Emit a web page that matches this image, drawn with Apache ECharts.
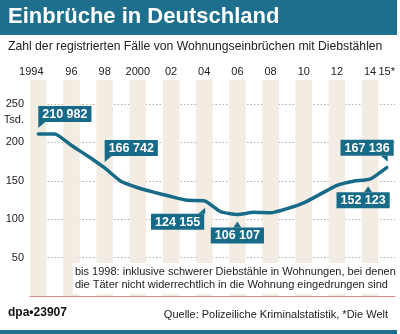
<!DOCTYPE html>
<html>
<head>
<meta charset="utf-8">
<script src="https://cdn.jsdelivr.net/npm/echarts@6/dist/echarts.min.js"></script>
<style>
  html, body { margin: 0; padding: 0; background: #fff; }
  #chart { width: 400px; height: 334px; }
</style>
</head>
<body>
<div id="chart"></div>
<script>
// Registered residential burglaries with theft, Germany (thousands of cases)
const years = ['1994','1995','1996','1997','1998','1999','2000','2001','2002','2003','2004',
               '2005','2006','2007','2008','2009','2010','2011','2012','2013','2014','2015'];
const cases = [210.982, 210.9, 196.0, 182.0, 166.742, 149.0, 141.0, 135.0, 129.5, 124.6, 124.155,
               109.7, 106.107, 108.9, 108.3, 113.8, 121.3, 132.6, 144.1, 149.5, 152.123, 167.136];
// Years whose exact count is written in a callout
const calloutYears = ['1994', '1998', '2004', '2006', '2014', '2015'];
// Value axis ticks (thousands)
const yTicks = [50, 100, 150, 200, 250];

const TEAL = '#176b88';
const FONT = '"Liberation Sans", Arial, sans-serif';

// Callout placement: box above/below the point, which edge sits at the point, shift in px
const calloutPlacement = {
  '1994': { side: 'above', anchor: 'left',   dx: 0,  tail: 'left'  },
  '1998': { side: 'above', anchor: 'left',   dx: 0,  tail: 'left'  },
  '2004': { side: 'below', anchor: 'right',  dx: 0,  tail: 'right' },
  '2006': { side: 'below', anchor: 'center', dx: 0,  tail: 'mid'   },
  '2014': { side: 'below', anchor: 'center', dx: -7, tail: 'mid'   },
  '2015': { side: 'above', anchor: 'right',  dx: 7,  tail: 'right' }
};

function formatCount(v) {
  const n = Math.round(v * 1000);
  return String(n).replace(/\B(?=(\d{3})+(?!\d))/g, ' ');
}

function yearLabel(y) {
  if (y === '2015') return '15*';
  if (y === '1994') return '{first|1994}';
  if (y === '2000') return '2000';
  return y.slice(2);
}

const chart = echarts.init(document.getElementById('chart'), null, { renderer: 'canvas' });

const calloutData = calloutYears.map(y => [y, cases[years.indexOf(y)]]);

chart.setOption({
  animation: false,
  grid: { left: 30, right: 5, top: 80, bottom: 38 },
  xAxis: [{
    type: 'category',
    data: years,
    position: 'top',
    boundaryGap: true,
    axisLine: { show: false },
    axisTick: { show: false },
    axisLabel: {
      interval: (i, v) => (i % 2 === 0) || v === '2015',
      formatter: yearLabel,
      margin: 3,
      fontFamily: FONT,
      fontSize: 11,
      color: '#222',
      rich: { first: { fontFamily: FONT, fontSize: 11, color: '#222', padding: [0, 14, 0, 0] } }
    },
    splitLine: { show: false },
    splitArea: {
      show: true,
      interval: 0,
      areaStyle: { color: ['#f3ece3', 'rgba(255,255,255,0)'] }
    }
  }, {
    type: 'category',
    data: years,
    position: 'bottom',
    axisLine: { show: true, lineStyle: { color: '#e2857c', width: 1 } },
    axisTick: { show: false },
    axisLabel: { show: false }
  }],
  yAxis: {
    type: 'value',
    min: 0,
    max: 281.25,
    interval: 50,
    axisLine: { show: false },
    axisTick: { show: false },
    axisLabel: {
      showMinLabel: false,
      showMaxLabel: false,
      margin: 6,
      fontFamily: FONT,
      fontSize: 11,
      color: '#222',
      formatter: v => (yTicks.indexOf(v) >= 0 ? String(v) : '')
    },
    splitLine: {
      show: true,
      showMinLine: false,
      showMaxLine: false,
      lineStyle: { color: '#b0b0b0', type: [1.5, 2], width: 1 }
    }
  },
  series: [{
    type: 'line',
    data: cases,
    symbol: 'none',
    smooth: 0.15,
    lineStyle: { color: TEAL, width: 3.5, cap: 'round', join: 'round' },
    z: 3
  }, {
    type: 'custom',
    data: calloutData,
    z: 5,
    renderItem: (params, api) => {
      const year = years[api.value(0)];
      const val = api.value(1);
      const p = api.coord([api.value(0), val]);
      const cfg = calloutPlacement[year];
      const px = p[0] + cfg.dx;
      const above = cfg.side === 'above';
      const edgeY = above ? p[1] - 12 : p[1] + 13;
      const tipY = above ? edgeY + 6 : edgeY - 6;
      let tri;
      if (cfg.tail === 'left') {
        const tx = p[0] + cfg.dx;
        tri = [[tx, edgeY], [tx + 7, edgeY], [tx, tipY]];
      } else if (cfg.tail === 'right') {
        const tx = p[0] + 1;
        tri = [[tx - 7, edgeY], [tx, edgeY], [tx, tipY]];
      } else {
        const tx = p[0] - (cfg.dx ? 2 : 0);
        tri = [[tx - 4, edgeY], [tx + 4, edgeY], [tx, tipY]];
      }
      return {
        type: 'group',
        children: [{
          type: 'polygon',
          shape: { points: tri },
          style: { fill: TEAL }
        }, {
          type: 'text',
          x: px,
          y: edgeY,
          style: {
            text: formatCount(val),
            fill: '#fff',
            font: 'bold 12.5px ' + FONT,
            align: cfg.anchor,
            verticalAlign: above ? 'bottom' : 'top',
            backgroundColor: TEAL,
            padding: [2, 4, 1, 4]
          }
        }]
      };
    }
  }],
  graphic: [
    { type: 'rect', left: 0, top: 0, shape: { width: 397, height: 35 }, style: { fill: '#1d6f8d' }, z: 10 },
    { type: 'text', left: 8, top: 6, style: { text: 'Einbrüche in Deutschland', fill: '#fff', font: 'bold 22px ' + FONT }, z: 11 },
    { type: 'text', left: 8, top: 41, style: { text: 'Zahl der registrierten Fälle von Wohnungseinbrüchen mit Diebstählen', fill: '#222', font: '12.2px ' + FONT }, z: 11 },
    { type: 'text', right: 376, top: 114, style: { text: 'Tsd.', fill: '#222', font: '11px ' + FONT, align: 'right' }, z: 11 },
    {
      type: 'text', left: 73, top: 263, z: 11,
      style: {
        text: 'bis 1998: inklusive schwerer Diebstähle in Wohnungen, bei denen\ndie Täter nicht widerrechtlich in die Wohnung eingedrungen sind',
        fill: '#222', font: '11px ' + FONT, lineHeight: 13,
        backgroundColor: '#fff', padding: [2, 4, 3, 2]
      }
    },
    { type: 'text', left: 8, top: 307, style: { text: 'dpa•23907', fill: '#111', font: 'bold 12px ' + FONT }, z: 11 },
    { type: 'text', right: 12, top: 309, style: { text: 'Quelle: Polizeiliche Kriminalstatistik, *Die Welt', fill: '#222', font: '11px ' + FONT }, z: 11 },
    { type: 'rect', left: 0, top: 330, shape: { width: 397, height: 4 }, style: { fill: '#1d6f8d' }, z: 10 }
  ]
});
</script>
</body>
</html>
